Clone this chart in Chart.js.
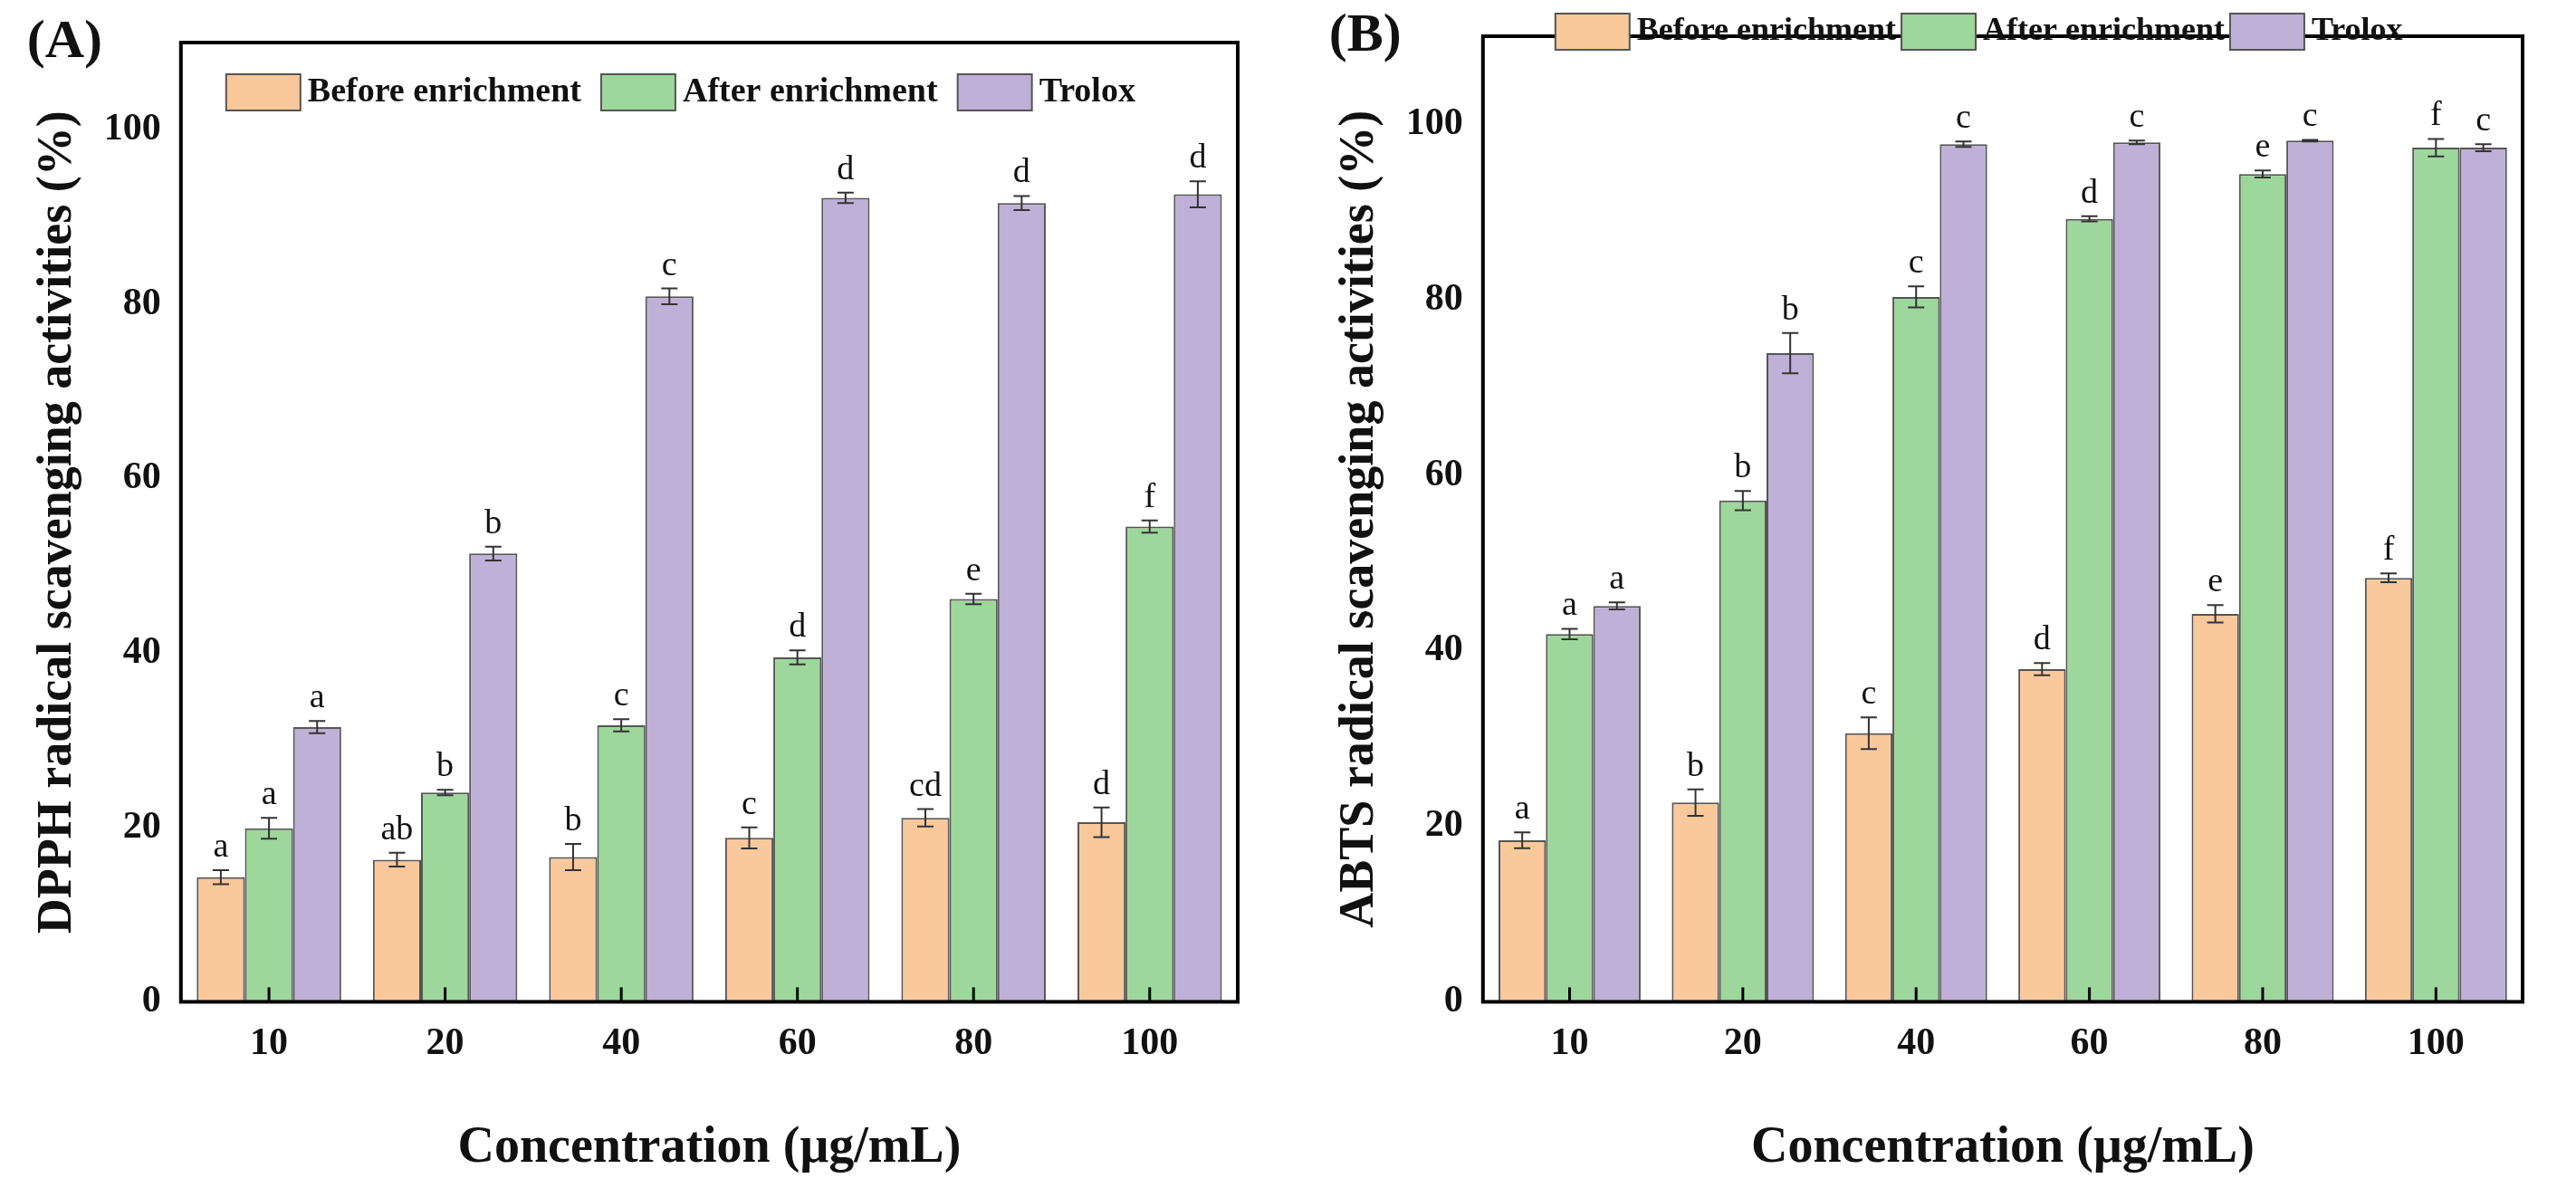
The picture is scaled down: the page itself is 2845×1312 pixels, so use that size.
<!DOCTYPE html>
<html>
<head>
<meta charset="utf-8">
<script src="https://cdn.jsdelivr.net/npm/chart.js@4"></script>
<style>
  body { margin: 0; background: #fff; }
  .panel { position: absolute; top: 0; height: 1312px; }
</style>
</head>
<body>
<div class="panel" style="left:0;width:1422px"><canvas id="chartA"></canvas></div>
<div class="panel" style="left:1422px;width:1423px"><canvas id="chartB"></canvas></div>
<script>
const concentrations = ['10', '20', '40', '60', '80', '100'];
const seriesNames = ['Before enrichment', 'After enrichment', 'Trolox'];
const yTicks = [0, 20, 40, 60, 80, 100];

// Panel A: DPPH
const dpphBefore = [14.3, 16.3, 16.6, 18.8, 21.1, 20.6];
const dpphBeforeErr = [0.8, 0.8, 1.5, 1.2, 1.0, 1.7];
const dpphAfter = [19.9, 24.0, 31.7, 39.5, 46.2, 54.5];
const dpphAfterErr = [1.2, 0.3, 0.7, 0.8, 0.6, 0.7];
const dpphTrolox = [31.5, 51.4, 80.9, 92.2, 91.6, 92.6];
const dpphTroloxErr = [0.7, 0.8, 0.9, 0.6, 0.8, 1.5];
const dpphLetters = [
    ['a', 'ab', 'b', 'c', 'cd', 'd'],
    ['a', 'b', 'c', 'd', 'e', 'f'],
    ['a', 'b', 'c', 'd', 'd', 'd']
];

// Panel B: ABTS
const abtsBefore = [18.4, 22.7, 30.6, 37.9, 44.2, 48.3];
const abtsBeforeErr = [0.9, 1.5, 1.8, 0.7, 1.0, 0.5];
const abtsAfter = [41.9, 57.1, 80.3, 89.2, 94.3, 97.3];
const abtsAfterErr = [0.6, 1.1, 1.2, 0.3, 0.4, 1.0];
const abtsTrolox = [45.1, 73.9, 97.7, 97.9, 98.1, 97.3];
const abtsTroloxErr = [0.4, 2.3, 0.3, 0.2, 0.1, 0.4];
const abtsLetters = [
    ['a', 'b', 'c', 'd', 'e', 'f'],
    ['a', 'b', 'c', 'd', 'e', 'f'],
    ['a', 'b', 'c', 'c', 'c', 'c']
];

const fills = ['#F9C89B', '#9DD79B', '#BFB0D7'];
const FONT = '"Liberation Serif", "Times New Roman", serif';

// error bars, letters, frame, in-plot legend and panel tag
const decorPlugin = {
    id: 'decor',
    afterDatasetsDraw(chart, args, opts) {
        const { ctx, chartArea: a, scales } = chart;
        const y = scales.y;
        ctx.save();
        chart.data.datasets.forEach((ds, di) => {
            const meta = chart.getDatasetMeta(di);
            meta.data.forEach((bar, i) => {
                const v = ds.data[i], e = ds.errors[i];
                const top = y.getPixelForValue(v + e), bot = y.getPixelForValue(v - e);
                ctx.strokeStyle = '#333';
                ctx.lineWidth = 2;
                ctx.beginPath();
                ctx.moveTo(bar.x, top); ctx.lineTo(bar.x, bot);
                ctx.moveTo(bar.x - 9, top); ctx.lineTo(bar.x + 9, top);
                ctx.moveTo(bar.x - 9, bot); ctx.lineTo(bar.x + 9, bot);
                ctx.stroke();
                ctx.fillStyle = '#111';
                ctx.font = '38px ' + FONT;
                ctx.textAlign = 'center';
                ctx.textBaseline = 'bottom';
                ctx.fillText(ds.letters[i], bar.x, top - 6);
            });
        });
        // x tick marks inside at category centres
        const x = scales.x;
        ctx.strokeStyle = '#000';
        ctx.lineWidth = 3;
        concentrations.forEach((c, i) => {
            const px = x.getPixelForValue(i);
            ctx.beginPath(); ctx.moveTo(px, a.bottom); ctx.lineTo(px, a.bottom - 16); ctx.stroke();
        });
        // frame
        ctx.lineWidth = 4;
        ctx.strokeRect(a.left, a.top, a.right - a.left, a.bottom - a.top);
        // legend
        ctx.font = 'bold ' + opts.legendFont + 'px ' + FONT;
        ctx.textAlign = 'left';
        ctx.textBaseline = 'middle';
        let lx = a.left + opts.legendX;
        const ly = a.top + opts.legendY;
        seriesNames.forEach((n, i) => {
            ctx.fillStyle = fills[i];
            ctx.fillRect(lx, ly - 20, 82, 40);
            ctx.strokeStyle = '#555';
            ctx.lineWidth = 2;
            ctx.strokeRect(lx, ly - 20, 82, 40);
            ctx.fillStyle = '#111';
            ctx.fillText(n, lx + 90, ly);
            lx += 90 + ctx.measureText(n).width + opts.legendGap;
        });
        // panel tag
        ctx.font = 'bold 60px ' + FONT;
        ctx.textAlign = 'left';
        ctx.textBaseline = 'top';
        ctx.fillText(opts.tag, a.left - 170, a.top - 30);
        ctx.restore();
    }
};

const makeChart = (id, tag, yTitle, values, errors, letters, pad, legend) => {
    new Chart(document.getElementById(id), {
        type: 'bar',
        data: {
            labels: concentrations,
            datasets: seriesNames.map((n, i) => ({
                label: n,
                data: values[i],
                errors: errors[i],
                letters: letters[i],
                backgroundColor: fills[i],
                borderColor: '#555',
                borderWidth: 2,
                categoryPercentage: 0.82,
                barPercentage: 1.0
            }))
        },
        options: {
            responsive: true,
            maintainAspectRatio: false,
            animation: false,
            layout: { padding: pad },
            plugins: {
                legend: { display: false },
                tooltip: { enabled: false },
                decor: Object.assign({ tag: tag }, legend)
            },
            scales: {
                x: {
                    grid: { display: false, drawTicks: false },
                    border: { display: false },
                    ticks: { color: '#111', padding: 22, font: { family: FONT, size: 42, weight: 'bold' } },
                    title: { display: true, text: 'Concentration (μg/mL)', color: '#111', padding: { top: 34 },
                             font: { family: FONT, size: 56, weight: 'bold' } }
                },
                y: {
                    min: 0, max: 110,
                    afterBuildTicks: axis => { axis.ticks = yTicks.map(v => ({ value: v })); },
                    grid: { display: false, drawTicks: true, tickLength: 14, tickWidth: 3, tickColor: '#000' },
                    border: { display: false },
                    ticks: { color: '#111', padding: 8, font: { family: FONT, size: 42, weight: 'bold' } },
                    title: { display: true, text: yTitle, color: '#111', padding: { bottom: 10 },
                             font: { family: FONT, size: 54, weight: 'bold' } }
                }
            }
        },
        plugins: [decorPlugin]
    });
};

makeChart('chartA', '(A)', 'DPPH radical scavenging activities (%)',
    [dpphBefore, dpphAfter, dpphTrolox], [dpphBeforeErr, dpphAfterErr, dpphTroloxErr], dpphLetters,
    { left: 28, top: 47, right: 55, bottom: 6 },
    { legendX: 50, legendY: 55, legendGap: 22, legendFont: 38 });
makeChart('chartB', '(B)', 'ABTS radical scavenging activities (%)',
    [abtsBefore, abtsAfter, abtsTrolox], [abtsBeforeErr, abtsAfterErr, abtsTroloxErr], abtsLetters,
    { left: 44, top: 40, right: 59, bottom: 6 },
    { legendX: 80, legendY: -5, legendGap: 6, legendFont: 36 });
</script>
</body>
</html>
